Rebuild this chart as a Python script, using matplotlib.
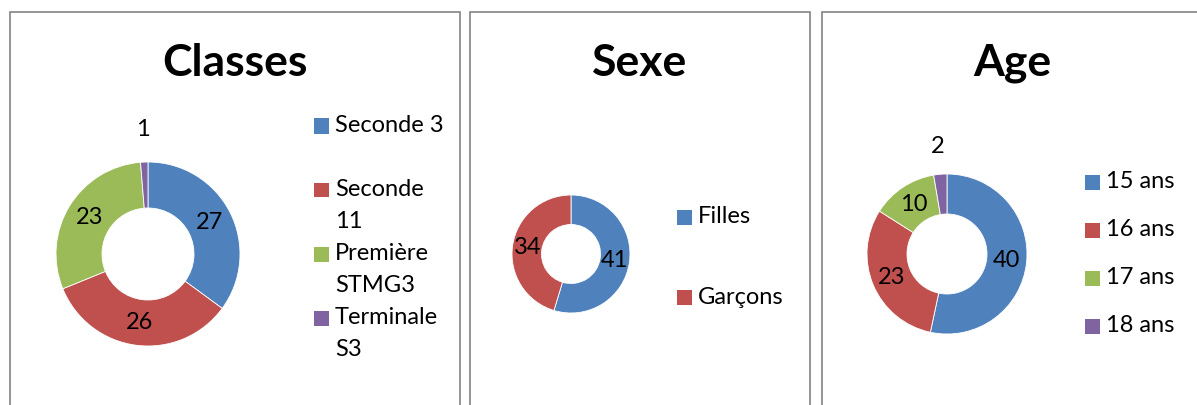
import textwrap
import matplotlib
matplotlib.use("Agg")
import matplotlib.pyplot as plt
from matplotlib.patches import Rectangle
import numpy as np

# Data
classes_labels = ['Seconde 3', 'Seconde 11', 'Première STMG3', 'Terminale S3']
classes_values = [27, 26, 23, 1]

sexe_labels = ['Filles', 'Garçons']
sexe_values = [41, 34]

age_labels = ['15 ans', '16 ans', '17 ans', '18 ans']
age_values = [40, 23, 10, 2]

colors = ['#4F81BD', '#C0504D', '#9BBB59', '#8064A2']

W, H = 1197, 405
plt.rcParams['font.family'] = ['Lato', 'DejaVu Sans']

fig = plt.figure(figsize=(W / 100, H / 100), dpi=100)


def fx(x):
    return x / W


def fy(y):
    return 1 - y / H


def panel(left, right, title, title_x):
    # chart-area border, open at the bottom of the crop
    top, bottom = 12, H + 10
    fig.add_artist(Rectangle((fx(left), fy(bottom)), fx(right - left), (bottom - top) / H,
                             transform=fig.transFigure, fill=False,
                             edgecolor='#8c8c8c', linewidth=1.3))
    fig.text(fx(title_x), fy(63), title, ha='center', va='center',
             fontsize=32, fontweight='bold')


def donut(values, cx, cy, r):
    ax = fig.add_axes([fx(cx - r), fy(cy + r), 2 * r / W, 2 * r / H])
    wedges, _ = ax.pie(values, colors=colors[:len(values)], startangle=90,
                       counterclock=False,
                       wedgeprops=dict(width=0.5, edgecolor='white', linewidth=0.6))
    total = sum(values)
    for w, v in zip(wedges, values):
        ang = np.deg2rad((w.theta1 + w.theta2) / 2)
        dist = 1.35 if v / total < 0.05 else 0.75
        ax.text(dist * np.cos(ang), dist * np.sin(ang), str(v),
                ha='center', va='center', fontsize=17)
    ax.set_xlim(-1, 1)
    ax.set_ylim(-1, 1)
    ax.axis('off')


def legend(labels, x, y0, step, wrap=None):
    for i, lab in enumerate(labels):
        y = y0 + i * step
        fig.add_artist(Rectangle((fx(x), fy(y + 7.5)), 15 / W, 15 / H,
                                 transform=fig.transFigure,
                                 facecolor=colors[i], edgecolor='none'))
        lines = textwrap.wrap(lab, wrap) if wrap else [lab]
        for j, line in enumerate(lines):
            fig.text(fx(x + 21), fy(y + j * 32), line, ha='left', va='center',
                     fontsize=17)


# Classes
panel(10, 460, 'Classes', 235)
donut(classes_values, 148, 254, 92)
legend(classes_labels, 314, 126, 64, wrap=9)

# Sexe
panel(470, 810, 'Sexe', 640)
donut(sexe_values, 571, 254, 59)
legend(sexe_labels, 677, 217, 80)

# Age
panel(822, 1205, 'Age', 1012)
donut(age_values, 947, 254, 80)
legend(age_labels, 1085, 182, 48)

fig.savefig('out.png', dpi=100)
